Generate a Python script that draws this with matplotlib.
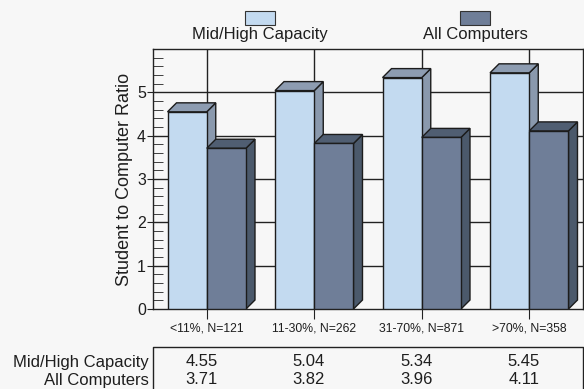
import numpy as np
import matplotlib
matplotlib.use("Agg")
import matplotlib.pyplot as plt
from matplotlib.patches import Polygon, Rectangle
from matplotlib.lines import Line2D
import matplotlib.transforms as mtransforms

plt.rcParams["font.family"] = ["Liberation Sans", "DejaVu Sans"]

# data
categories = ["<11%, N=121", "11-30%, N=262", "31-70%, N=871", ">70%, N=358"]
mid_high = [4.55, 5.04, 5.34, 5.45]
all_comp = [3.71, 3.82, 3.96, 4.11]
series_names = ["Mid/High Capacity", "All Computers"]

bg = "#f7f7f7"
light_front, light_top, light_side = "#c3daf0", "#8d9cb1", "#8a99ad"
dark_front, dark_top, dark_side = "#6f7e98", "#505e72", "#4b596b"
edge = "#1c1c1c"
txt = "#1e1e1e"

W, H = 584, 389
fig = plt.figure(figsize=(W / 100, H / 100), dpi=100, facecolor=bg)
ax_l, ax_r, ax_t, ax_b = 153, 583, 49, 309
ax = fig.add_axes([ax_l / W, (H - ax_b) / H, (ax_r - ax_l) / W, (ax_b - ax_t) / H])
ax.set_facecolor(bg)
ax.set_xlim(-0.5, 3.5)
ax.set_ylim(0, 6)

# pixel -> data scale for the 3d depth
px_x = (ax_r - ax_l) / 4.0
px_y = (ax_b - ax_t) / 6.0
depth = 9
ddx, ddy = depth / px_x, depth / px_y
bw = 0.365


def bar3d(x0, h, front, top, side):
    x1 = x0 + bw
    ax.add_patch(Polygon([(x1, 0), (x1 + ddx, ddy), (x1 + ddx, h + ddy), (x1, h)],
                         closed=True, fc=side, ec=edge, lw=1, zorder=3))
    ax.add_patch(Polygon([(x0, h), (x1, h), (x1 + ddx, h + ddy), (x0 + ddx, h + ddy)],
                         closed=True, fc=top, ec=edge, lw=1, zorder=3))
    ax.add_patch(Rectangle((x0, 0), bw, h, fc=front, ec=edge, lw=1, zorder=3))


x = np.arange(len(categories))
for i in x:
    bar3d(i - bw, mid_high[i], light_front, light_top, light_side)
    bar3d(i, all_comp[i], dark_front, dark_top, dark_side)

# grid
for yv in range(1, 6):
    ax.axhline(yv, color="#222222", lw=1, zorder=1)
for xv in x:
    ax.axvline(xv, color="#222222", lw=1, zorder=1)

ax.set_yticks(range(0, 6))
ax.set_yticks(np.arange(0, 6.01, 0.2), minor=True)
ax.tick_params(axis="y", which="major", direction="out", length=4, labelsize=11.5,
               colors="#222222", labelcolor=txt, pad=1)
ax.tick_params(axis="y", which="minor", direction="in", length=7, colors="#222222")
ax.set_xticks(x)
ax.set_xticklabels(categories, fontsize=8.8)
ax.tick_params(axis="x", direction="out", length=7, pad=3, colors="#222222", labelcolor=txt)
for s in ax.spines.values():
    s.set_color("#222222")
    s.set_linewidth(1)
ax.set_ylabel("Student to Computer Ratio", fontsize=13, color=txt, labelpad=3)

# legend at top
for name, col, cx in [(series_names[0], light_front, 260), (series_names[1], dark_front, 475)]:
    fig.patches.append(Rectangle(((cx - 15) / W, (H - 25) / H), 30 / W, 14 / H,
                                 fc=col, ec="#333333", lw=0.8, transform=fig.transFigure))
    fig.text(cx / W, (H - 35) / H, name, ha="center", va="center", fontsize=12, color=txt)

# data table under the chart
tl, tt = 153, 347
fig.lines.append(Line2D([tl / W, tl / W, ax_r / W, ax_r / W],
                        [0, (H - tt) / H, (H - tt) / H, 0],
                        color="#222222", lw=1, transform=fig.transFigure))
trans = mtransforms.blended_transform_factory(ax.transData, fig.transFigure)
rows_y = [362, 380]
for vals, name, ry in [(mid_high, series_names[0], rows_y[0]), (all_comp, series_names[1], rows_y[1])]:
    fig.text(149 / W, (H - ry) / H, name, ha="right", va="center", fontsize=12, color=txt)
    for i, v in enumerate(vals):
        fig.text(i - 0.05, (H - ry) / H, f"{v:.2f}", ha="center", va="center",
                 fontsize=12, color=txt, transform=trans)

fig.savefig("out.png", dpi=100, facecolor=bg)
